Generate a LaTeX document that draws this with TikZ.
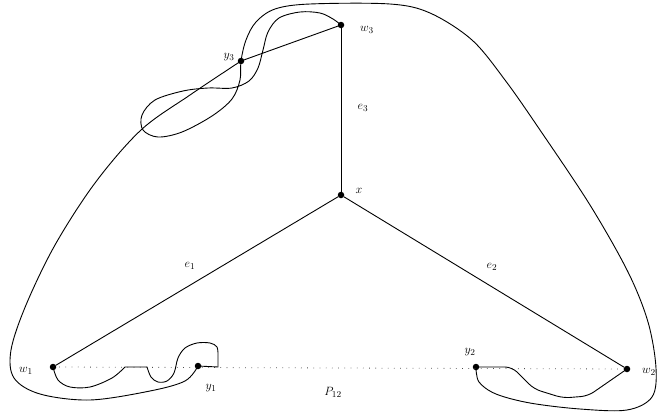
\documentclass[tikz,border=0pt]{standalone}
\begin{document}
\begin{tikzpicture}[x=1pt,y=-1pt,
  vtx/.style={circle,fill=black,inner sep=0pt,minimum size=6.5pt},
  lbl/.style={inner sep=0pt,font=\fontsize{13}{15}\selectfont},
  curve/.style={line width=0.9pt,line join=round,line cap=round},
  dotpath/.style={line width=0.8pt,dash pattern=on 0.7pt off 5.5pt,black!70}]
\useasboundingbox (0,0) rectangle (657,413);
% vertices
\node[vtx] (x)  at (341,195) {};
\node[vtx] (w3) at (341,25) {};
\node[vtx] (w1) at (53,367) {};
\node[vtx] (w2) at (627,369) {};
\node[vtx] (y1) at (198,366) {};
\node[vtx] (y2) at (476,367) {};
\node[vtx] (y3) at (241,61) {};
% labels
\node[lbl] (lw3) at (367,30) {$w_3$};
\node[lbl] (le3) at (363,108) {$e_3$};
\node[lbl] (lx)  at (359,191) {$x$};
\node[lbl] (le1) at (190,266) {$e_1$};
\node[lbl] (le2) at (492,267) {$e_2$};
\node[lbl] (lw1) at (26,371) {$w_1$};
\node[lbl] (ly1) at (211,388) {$y_1$};
\node[lbl] (ly2) at (470,352) {$y_2$};
\node[lbl] (lw2) at (649,372) {$w_2$};
\node[lbl] (ly3) at (229,57) {$y_3$};
\node[lbl] (lP)  at (333,392) {$P_{12}$};
% dotted path P12
\draw[dotpath] (w1.center) -- (w2.center);
% spokes
\draw[curve] (x) -- (w3);
\draw[curve] (x) -- (w1);
\draw[curve] (x) -- (w2);
% path A: w3 - loop - y3 - top - right arc - y2
\draw[curve] plot[smooth,tension=0.55] coordinates {(w3.center) (333,19) (320,13) (300,12) (279,18) (268,32) (263,50) (258,68) (249,81) (232,88) (208,88) (183,91) (155,100) (142,115) (143,130) (158,137) (182,132) (212,116) (232,99) (240,80) (y3.center) (246,40) (256,22) (275,9) (310,4) (390,4) (430,13) (472,40) (505,80) (540,130) (590,205) (628,272) (648,322) (656,368) (652,397) (627,410) (580,409) (530,403) (496,394) (479,382) (y2.center)};
% path B: w3 - y3 - left arc - y1
\draw[curve] (w3.center) -- (y3.center);
\draw[curve] plot[smooth,tension=0.55] coordinates {(y3.center) (190,95) (141,130) (95,183) (55,245) (26,305) (11,350) (14,378) (40,394) (90,400) (150,391) (185,381) (y1.center)};
% path C: w1 - y1
\draw[curve] plot[smooth,tension=0.55] coordinates {(w1.center) (58,380) (70,387) (90,387) (112,378) (125,367)} -- (147,367);
\draw[curve] plot[smooth,tension=0.55] coordinates {(147,367) (151,377) (158,382) (167,381) (174,373) (178,358) (185,348) (197,343) (210,343) (217,347) (218,356)} -- (218,367) -- (y1.center);
% path D: y2 - w2
\draw[curve,rounded corners=7pt] (y2.center) -- (512,367) -- (534,389) -- (563,398) -- (588,396) -- (w2.center);
\end{tikzpicture}
\end{document}
